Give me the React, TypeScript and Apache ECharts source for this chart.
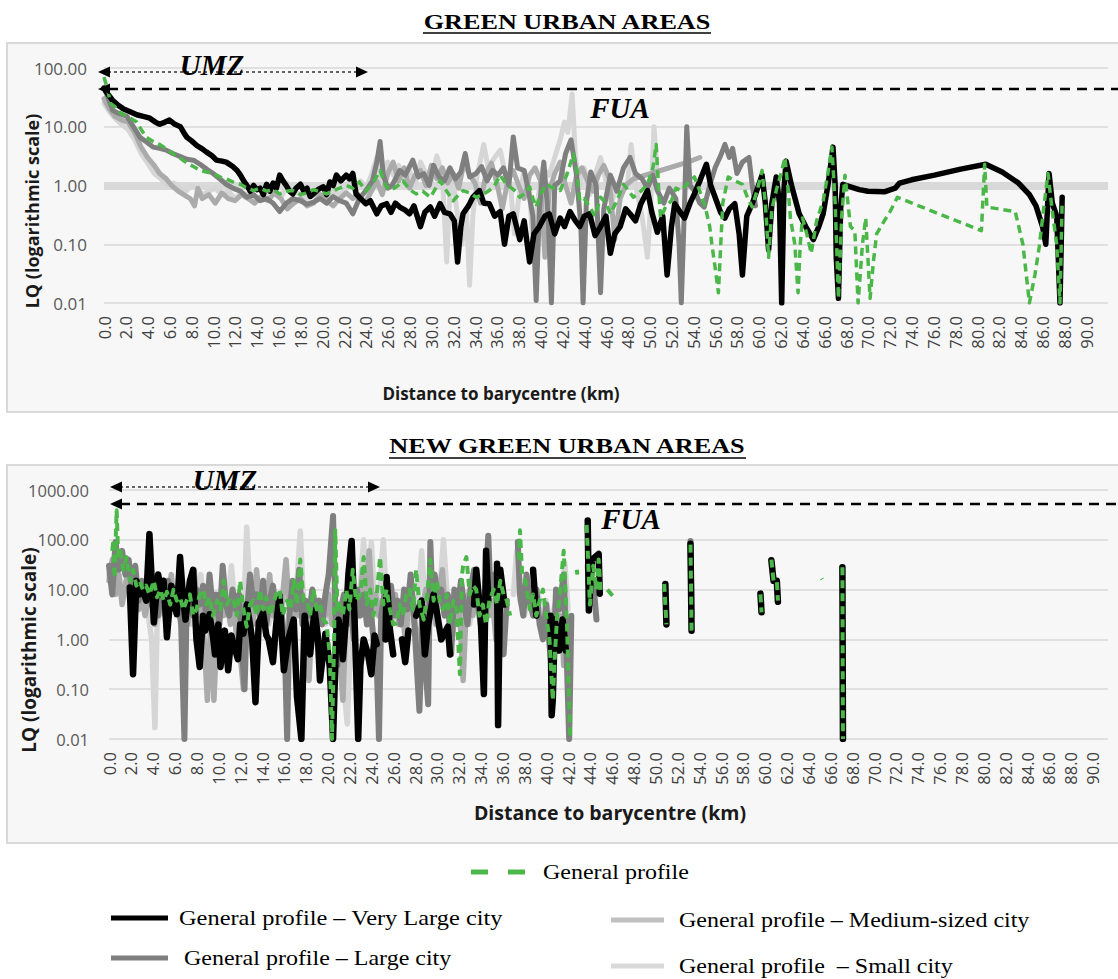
import React, { useEffect, useRef } from "react";
import * as echarts from "echarts";

type Pt = [number, number] | null;

// ---------- GREEN URBAN AREAS (top) : [distance km, LQ] ----------
const GUA_SMALL: Pt[] = [
  [0, 25], [0.5, 18], [1, 14], [1.6, 11], [2.2, 9], [2.8, 6], [3.4, 3.5], [4, 2.4], [4.6, 1.6], [5.2, 1.3], [5.8, 1.0], [6.4, 1.1], [7, 0.9], [7.5, 0.8], [8, 1.0], [8.5, 0.9], [9, 0.7], [9.6, 0.8], [10.2, 0.9], [10.8, 0.7], [11.4, 0.8], [12, 0.6], [12.6, 0.75], [13.2, 0.7], [13.8, 0.55], [14.4, 0.65], [15, 0.7], [15.6, 0.9], [16.2, 0.6], [16.8, 1.1], [17.4, 0.8], [18, 0.7], [18.6, 0.6], [19.2, 0.8], [19.8, 0.7], [20.4, 0.6], [21, 0.8], [21.6, 0.7], [22.2, 0.9], [22.6, 1.4], [23, 0.8], [23.5, 1.2], [24, 0.9], [24.5, 1.5], [25, 3], [25.4, 1.2], [26, 2.5], [26.5, 1.5], [27, 2.2], [27.5, 1.2], [28, 1.8], [28.5, 1.0], [29, 2.5], [29.5, 1.6], [30, 1.2], [30.5, 3.2], [31, 1.5], [31.4, 0.05], [31.7, 0.8], [32, 1.2], [32.4, 0.3], [32.8, 0.1], [33.2, 0.4], [33.5, 0.02], [33.8, 0.3], [34.2, 1.5], [34.8, 5], [35.2, 2], [35.8, 3], [36.3, 4], [36.8, 1.5], [37.3, 0.8], [37.6, 0.15], [38, 0.6], [38.5, 1.8], [39, 0.8], [39.3, 0.1], [39.7, 0.5], [40.2, 2], [40.8, 1.5], [41.3, 3], [41.8, 6], [42.2, 12], [42.5, 8], [42.9, 36], [43.2, 3], [43.6, 1.0], [44, 2], [44.5, 0.7], [45, 1.5], [45.5, 3], [46, 1.2], [46.5, 0.5], [47, 1.0], [47.5, 0.8], [48, 1.2], [48.3, 5], [48.7, 1.0], [49.3, 0.3], [49.8, 0.06], [50.1, 0.5], [50.4, 10], [50.7, 1.5]
];
const GUA_MEDIUM: Pt[] = [
  [0, 30], [0.5, 20], [1, 15], [1.6, 13], [2.2, 12], [2.8, 8], [3.4, 4.5], [4, 3], [4.6, 2.2], [5.1, 1.6], [5.7, 1.3], [6.2, 1.0], [6.8, 0.8], [7.3, 0.7], [7.9, 0.6], [8.3, 0.45], [8.6, 0.9], [9, 0.6], [9.6, 0.7], [10.2, 0.5], [10.8, 0.75], [11.4, 0.6], [12, 0.55], [12.6, 0.7], [13.2, 0.6], [13.8, 0.5], [14.4, 0.65], [15, 0.55], [15.6, 0.75], [16.2, 0.6], [16.8, 0.4], [17.4, 0.5], [18, 0.6], [18.6, 0.45], [19.2, 0.5], [19.8, 0.7], [20.4, 0.55], [21, 0.45], [21.6, 0.6], [22.2, 0.75], [22.8, 0.6], [23.3, 0.7], [23.9, 0.5], [24.5, 0.8], [25, 1.2], [25.5, 0.7], [26, 1.6], [26.5, 2.5], [27, 1.2], [27.5, 2], [28, 0.9], [28.5, 1.5], [29, 1.8], [29.5, 1.0], [30, 2.2], [30.5, 1.3], [31, 2], [31.5, 1.1], [32, 1.6], [32.5, 0.9], [33, 2.5], [33.5, 1.5], [34, 1.1], [34.5, 0.5], [35, 1.6], [35.5, 2.4], [36, 1.1], [36.5, 0.4], [37, 1.2], [37.5, 1.8], [38, 1.0], [38.5, 0.6], [39, 1.5], [39.5, 2], [40, 1.2], [40.4, 0.06], [40.8, 0.8], [41.3, 1.6], [41.8, 2.5], [42.3, 1.0], [42.8, 0.5], [43.3, 1.5], [43.8, 2.0], [44.3, 1.2], [44.8, 0.8], [45.3, 1.5], [45.8, 2.2], [46.3, 1.3], [46.8, 0.12], [47.3, 0.6], [47.8, 1.0], [48.5, 1.3], [51, 1.8], [53.5, 2.5], [54.6, 3]
];
const GUA_LARGE: Pt[] = [
  [0, 47], [0.4, 30], [0.8, 19], [1.3, 17], [2.1, 15], [2.7, 10], [3.3, 6.6], [3.9, 5.5], [4.5, 4.5], [5.1, 4.3], [5.7, 4], [6.3, 3.5], [7.0, 3.1], [7.6, 2.8], [8.2, 2.7], [8.8, 2.3], [9.4, 1.9], [10, 1.6], [10.6, 1.3], [11.2, 1.05], [11.8, 0.9], [12.5, 0.8], [13.1, 0.63], [13.7, 0.7], [14.3, 0.55], [14.9, 0.6], [15.5, 0.5], [16.1, 0.36], [16.7, 0.5], [17.3, 0.6], [18.0, 0.55], [18.6, 0.48], [19.2, 0.52], [19.8, 0.6], [20.4, 0.5], [21.0, 0.65], [21.6, 0.55], [22.2, 0.5], [22.8, 0.33], [23.4, 0.6], [24.0, 0.82], [24.6, 1.2], [25.0, 2.5], [25.3, 5.6], [25.6, 1.5], [26.0, 0.9], [26.4, 1.0], [27.1, 1.8], [27.6, 1.5], [28.3, 2.7], [28.8, 1.4], [29.3, 1.6], [29.8, 1.0], [30.2, 2.2], [30.7, 1.4], [31.2, 1.2], [31.7, 2.0], [32.2, 1.3], [32.7, 1.7], [33.1, 3.5], [33.5, 1.4], [34.1, 1.6], [34.6, 2.1], [35.1, 1.2], [35.6, 1.8], [36.1, 1.5], [36.6, 2.0], [37.1, 1.0], [37.5, 6.7], [37.9, 2.0], [38.5, 1.8], [38.9, 0.8], [39.3, 0.3], [39.6, 0.011], [39.9, 0.4], [40.3, 2.5], [40.7, 0.3], [41.0, 0.01], [41.3, 1.0], [41.8, 1.2], [42.3, 3.5], [42.8, 6], [43.3, 1.5], [43.7, 0.2], [43.9, 0.01], [44.2, 0.5], [44.6, 1.7], [45.1, 1.0], [45.5, 0.015], [45.8, 0.4], [46.4, 1.5], [47.0, 0.8], [47.6, 2.0], [48.2, 3], [48.7, 1.6], [49.3, 1.3], [49.8, 0.9], [50.3, 1.5], [50.7, 0.82], [51.3, 0.5], [51.8, 0.9], [52.4, 0.6], [52.7, 0.1], [52.9, 0.01], [53.2, 0.5], [53.4, 10], [53.7, 1.0], [54.1, 0.82], [54.6, 0.5], [55.0, 0.43], [55.5, 1.0], [56.0, 2.0], [56.5, 3.2], [56.9, 5], [57.3, 3.0], [57.6, 4.3], [58.0, 1.6], [58.5, 2.5], [59.1, 3], [59.4, 1.0], [59.7, 0.45]
];
const GUA_VERY_LARGE: Pt[] = [
  [0, 45], [0.4, 35], [0.8, 28], [1.2, 24], [1.8, 20], [2.4, 18], [3, 16], [3.6, 15], [4.2, 14], [4.7, 12], [5.1, 11], [5.6, 12], [6, 13], [6.5, 11], [7, 10], [7.3, 8], [7.6, 6.6], [8, 5.8], [8.5, 4.8], [9, 4.2], [9.4, 3.7], [9.9, 3.2], [10.3, 2.7], [10.8, 2.6], [11.2, 2.5], [11.8, 2.1], [12.2, 1.8], [12.5, 1.5], [12.8, 1.2], [13.1, 1.0], [13.4, 0.8], [13.7, 1.0], [14.0, 0.85], [14.3, 0.9], [14.6, 0.7], [14.9, 1.05], [15.2, 0.8], [15.5, 1.1], [15.8, 0.9], [16.1, 1.5], [16.4, 1.2], [16.7, 1.0], [17.0, 0.8], [17.3, 0.72], [17.6, 0.9], [18.0, 1.05], [18.3, 0.8], [18.6, 0.9], [18.9, 0.65], [19.2, 0.72], [19.6, 0.85], [20.1, 0.95], [20.4, 0.7], [20.7, 1.15], [21.0, 1.0], [21.3, 1.5], [21.7, 1.2], [22.2, 1.5], [22.5, 1.3], [22.8, 1.6], [23.1, 0.72], [23.5, 0.6], [24.0, 0.49], [24.4, 0.55], [25.0, 0.33], [25.4, 0.45], [25.9, 0.49], [26.3, 0.35], [26.7, 0.5], [27.1, 0.43], [27.6, 0.38], [28.0, 0.33], [28.4, 0.45], [29.0, 0.2], [29.4, 0.35], [29.9, 0.43], [30.3, 0.3], [30.8, 0.49], [31.2, 0.35], [31.7, 0.33], [32.1, 0.25], [32.4, 0.05], [32.7, 0.2], [32.9, 0.33], [33.4, 0.45], [33.8, 0.63], [34.4, 0.82], [34.8, 0.5], [35.3, 0.49], [35.8, 0.3], [36.3, 0.36], [36.7, 0.1], [37.1, 0.3], [37.5, 0.33], [37.8, 0.2], [38.1, 0.12], [38.5, 0.25], [39.0, 0.05], [39.4, 0.15], [39.9, 0.2], [40.4, 0.3], [40.8, 0.33], [41.3, 0.15], [41.8, 0.28], [42.2, 0.2], [42.7, 0.36], [43.2, 0.25], [43.6, 0.2], [44.0, 0.3], [44.5, 0.33], [45.0, 0.14], [45.5, 0.2], [46.0, 0.3], [46.4, 0.07], [46.8, 0.15], [47.3, 0.2], [47.8, 0.4], [48.2, 0.33], [48.7, 0.25], [49.2, 0.49], [49.8, 0.82], [50.2, 0.35], [50.7, 0.16], [51.2, 0.3], [51.6, 0.03], [52.0, 0.2], [52.3, 0.49], [52.8, 0.35], [53.2, 0.28], [53.7, 0.5], [54.1, 0.72], [54.6, 1.2], [55.2, 2.3], [55.6, 1.0], [56.0, 0.63], [56.5, 0.35], [56.9, 0.28], [57.3, 0.4], [57.8, 0.49], [58.2, 0.15], [58.5, 0.03], [58.9, 0.3], [59.4, 0.49], [59.8, 0.8], [60.3, 1.5], [60.6, 0.5], [60.9, 0.08], [61.2, 0.5], [61.6, 1.4], [61.9, 0.5], [62.1, 0.01], [62.3, 0.8], [62.5, 2.6], [63.0, 1.0], [63.7, 0.33], [64.3, 0.2], [65.0, 0.12], [65.5, 0.2], [65.9, 0.33], [66.4, 1.2], [66.8, 4.5], [67.0, 1.0], [67.1, 0.06], [67.3, 0.012], [67.5, 0.4], [67.7, 1.05], [68.4, 0.95], [69.2, 0.85], [70.0, 0.8], [71.5, 0.78], [72.5, 0.9], [72.9, 1.1], [74, 1.25], [76.1, 1.5], [78.5, 1.9], [80.8, 2.3], [82.3, 1.7], [83.8, 1.1], [84.8, 0.7], [85.4, 0.45], [86.0, 0.2], [86.3, 0.1], [86.6, 1.6], [86.9, 0.5], [87.3, 0.3], [87.6, 0.01], [87.8, 0.63]
];
const GUA_GENERAL: Pt[] = [
  [0, 70], [0.3, 45], [0.6, 25], [1.0, 22], [1.4, 18], [1.8, 16], [2.4, 14], [3, 12], [3.4, 9], [3.9, 6.6], [4.5, 5.6], [5.1, 5], [5.7, 4.2], [6.3, 3.5], [7.0, 2.9], [7.6, 2.4], [8.2, 2.1], [8.8, 1.8], [9.4, 1.7], [10, 1.6], [10.6, 1.4], [11.2, 1.3], [11.8, 1.15], [12.5, 1.05], [13.1, 0.9], [13.7, 0.82], [14.3, 0.9], [14.9, 0.8], [15.5, 0.85], [16.1, 0.72], [16.7, 0.8], [17.3, 0.82], [18.0, 0.7], [18.6, 0.75], [19.2, 0.85], [19.8, 0.78], [20.4, 0.72], [21, 0.82], [21.6, 0.9], [22.2, 1.0], [22.8, 0.9], [23.4, 1.15], [24.0, 0.8], [24.7, 1.15], [25.3, 1.8], [25.8, 1.0], [26.2, 0.82], [26.8, 0.95], [27.4, 1.2], [28.0, 0.85], [28.6, 0.72], [29.2, 0.8], [29.9, 0.63], [30.4, 0.9], [30.8, 1.2], [31.4, 0.8], [32.0, 0.55], [32.5, 0.7], [32.9, 0.82], [33.5, 0.75], [34.1, 0.63], [34.7, 0.7], [35.3, 0.82], [35.8, 1.0], [36.3, 1.5], [36.8, 1.1], [37.2, 0.95], [37.7, 0.8], [38.1, 0.63], [38.6, 0.75], [39.0, 0.95], [39.3, 0.6], [39.6, 0.43], [40.0, 0.7], [40.5, 1.05], [41.2, 0.9], [41.8, 0.82], [42.4, 1.5], [43.0, 3.4], [43.3, 2.0], [43.6, 0.55], [44.0, 0.6], [44.5, 0.43], [45.0, 0.3], [45.5, 0.63], [46.0, 0.5], [46.4, 0.33], [47.0, 0.55], [47.6, 1.05], [48.1, 0.8], [48.5, 0.63], [49.2, 0.8], [49.8, 1.05], [50.3, 2.0], [50.6, 5], [50.8, 1.0], [51.0, 0.28], [51.5, 0.45], [52.0, 0.55], [52.4, 0.9], [52.9, 0.82], [53.5, 1.1], [54.1, 1.4], [54.6, 0.8], [55.1, 0.43], [55.5, 0.2], [55.7, 0.1], [56.0, 0.04], [56.3, 0.015], [56.7, 0.5], [57.2, 1.4], [57.8, 1.2], [58.5, 1.05], [59.0, 0.6], [59.4, 0.43], [59.9, 0.9], [60.3, 1.8], [60.6, 0.5], [60.9, 0.06], [61.2, 0.4], [61.6, 0.82], [62.0, 1.5], [62.4, 3], [62.7, 0.8], [62.9, 0.28], [63.3, 0.1], [63.6, 0.015], [63.8, 0.1], [64.0, 0.28], [64.4, 0.15], [64.8, 0.07], [65.3, 0.25], [65.9, 0.55], [66.3, 1.5], [66.7, 4.5], [67.0, 0.5], [67.3, 0.012], [67.6, 0.3], [67.9, 1.5], [68.4, 0.2], [68.8, 0.17], [69.1, 0.01], [69.5, 0.1], [69.8, 0.28], [70.2, 0.012], [70.5, 0.05], [70.8, 0.15], [71.5, 0.25], [72.0, 0.35], [72.7, 0.63], [80.4, 0.17], [80.7, 2.3], [80.9, 0.43], [83.5, 0.36], [84.2, 0.1], [84.8, 0.01], [85.3, 0.03], [85.7, 0.09], [86.1, 0.4], [86.5, 1.6], [86.9, 0.36], [87.3, 0.1], [87.6, 0.01], [87.8, 0.55]
];

// ---------- NEW GREEN URBAN AREAS (bottom) : [distance km, LQ], null = gap ----------
const NGUA_SMALL: Pt[] = [
  [0, 20], [0.4, 10], [0.8, 30], [1.2, 8], [1.6, 15], [2.0, 5], [2.4, 12], [2.8, 4], [3.2, 8], [3.6, 3], [3.9, 1], [4.2, 0.017], [4.4, 2], [4.8, 6], [5.2, 3], [5.6, 10], [6.0, 4], [6.4, 8], [6.8, 3], [7.2, 6], [7.6, 2], [8.0, 5], [8.4, 20], [8.8, 3], [9.2, 6], [9.6, 0.07], [10.0, 3], [10.4, 8], [10.8, 4], [11.2, 30], [11.6, 3], [12.0, 6], [12.3, 2], [12.6, 180], [12.9, 8], [13.2, 5], [13.5, 8], [13.8, 3], [14.2, 6], [14.6, 2], [15.0, 4], [15.4, 8], [15.8, 3], [16.2, 20], [16.6, 6], [17.0, 3], [17.5, 150], [17.8, 5], [18.2, 2], [18.6, 8], [19.0, 3], [19.4, 6], [19.8, 2], [20.2, 10], [20.6, 4], [21.0, 3], [21.4, 0.2], [21.8, 0.02], [22.1, 1], [22.4, 6], [22.8, 3], [23.3, 100], [23.6, 4], [24.0, 90], [24.3, 6], [24.6, 3], [25.1, 100], [25.4, 5], [25.8, 2], [26.2, 6], [26.6, 3], [27.0, 8], [27.4, 2], [27.8, 5], [28.2, 3], [28.6, 60], [29.0, 4], [29.4, 10], [29.8, 3], [30.2, 6], [30.6, 100], [31.0, 5], [31.4, 2], [31.8, 8], [32.2, 3], [32.6, 6], [33.0, 2], [33.4, 10], [33.8, 4], [34.2, 8], [34.6, 3], [35.0, 6], [35.4, 2], [35.8, 5], null, [37.0, 8], [37.3, 60], [37.6, 6], [38.0, 3], [38.4, 8], [38.8, 4], [39.2, 10], [39.6, 3], [40.0, 6], [40.4, 2], [40.8, 5], [41.2, 3], [41.7, 35], [42.0, 4]
];
const NGUA_MEDIUM: Pt[] = [
  [0, 15], [0.3, 40], [0.6, 8], [0.9, 20], [1.2, 5], [1.5, 12], [1.8, 30], [2.1, 6], [2.4, 10], [2.7, 4], [3.0, 8], [3.3, 3], [3.6, 6], [3.9, 12], [4.2, 2], [4.5, 5], [4.8, 8], [5.1, 3], [5.4, 6], [5.7, 20], [6.0, 4], [6.3, 8], [6.6, 3], [6.9, 5], [7.2, 2], [7.5, 8], [7.8, 25], [8.1, 3], [8.4, 5], [8.7, 1], [9.0, 0.06], [9.3, 2], [9.6, 0.06], [9.9, 4], [10.2, 8], [10.5, 3], [10.8, 6], [11.1, 2], [11.4, 5], [11.7, 1], [12.0, 0.5], [12.3, 0.1], [12.6, 3], [12.9, 6], [13.2, 2], [13.5, 25], [13.8, 4], [14.1, 2], [14.4, 6], [14.7, 20], [15.0, 3], [15.3, 5], [15.6, 2], [15.9, 8], [16.2, 40], [16.5, 4], [16.8, 2], [17.1, 6], [17.4, 3], [17.7, 8], [18.0, 1], [18.3, 0.15], [18.6, 3], [18.9, 5], [19.2, 2], [19.5, 6], [19.8, 3], [20.1, 8], [20.4, 2], [20.7, 5], [21.0, 1], [21.4, 0.06], [21.7, 3], [22.0, 6], [22.3, 2], [22.6, 8], [22.9, 3], [23.2, 25], [23.5, 5], [23.8, 60], [24.1, 4], [24.4, 8], [24.7, 3], [25.0, 6], [25.3, 2], [25.6, 10], [25.9, 4], [26.2, 8], [26.5, 2], [26.8, 5], [27.1, 1], [27.4, 4], [27.7, 8], [28.0, 2], [28.4, 0.5], [28.7, 5], [29.0, 10], [29.3, 3], [29.6, 6], [29.9, 2], [30.2, 8], [30.5, 25], [30.8, 3], [31.1, 6], [31.4, 1], [31.7, 4], [32.0, 8], [32.4, 0.15], [32.7, 5], [33.0, 10], [33.3, 3], [33.6, 20], [33.9, 5], [34.2, 2], [34.5, 8], [34.8, 3], [35.1, 6], [35.4, 1], [35.7, 4], [36.0, 10], null, [41.4, 3], [41.6, 0.3], [41.9, 2]
];
const NGUA_LARGE: Pt[] = [
  [0, 30], [0.3, 8], [0.6, 90], [0.9, 25], [1.2, 60], [1.5, 20], [1.8, 40], [2.1, 10], [2.4, 30], [2.7, 6], [3.0, 15], [3.3, 8], [3.6, 20], [3.9, 5], [4.2, 10], [4.5, 3], [4.8, 12], [5.1, 6], [5.4, 15], [5.7, 4], [6.0, 10], [6.3, 6], [6.6, 2], [6.9, 0.01], [7.1, 5], [7.4, 8], [7.7, 3], [8.0, 10], [8.3, 5], [8.6, 12], [8.9, 3], [9.2, 20], [9.5, 4], [9.8, 8], [10.1, 2], [10.4, 30], [10.7, 5], [11.0, 3], [11.3, 10], [11.6, 4], [11.9, 8], [12.2, 0.5], [12.4, 0.1], [12.6, 3], [12.9, 20], [13.2, 5], [13.5, 8], [13.8, 3], [14.1, 15], [14.4, 2], [14.7, 6], [15.0, 12], [15.3, 3], [15.6, 8], [15.9, 2], [16.1, 0.5], [16.3, 0.01], [16.5, 3], [16.8, 15], [17.1, 4], [17.4, 25], [17.7, 2], [18.0, 6], [18.3, 3], [18.6, 10], [18.9, 4], [19.2, 6], [19.5, 2], [19.8, 8], [20.1, 20], [20.5, 300], [20.7, 5], [20.9, 0.3], [21.2, 4], [21.5, 8], [21.8, 2], [22.1, 6], [22.4, 1], [22.7, 10], [23.0, 3], [23.3, 8], [23.6, 2], [23.9, 5], [24.2, 1], [24.5, 0.3], [24.7, 0.01], [24.9, 3], [25.2, 8], [25.5, 4], [25.8, 12], [26.1, 3], [26.4, 6], [26.7, 2], [27.0, 10], [27.3, 4], [27.6, 20], [27.9, 3], [28.1, 0.5], [28.4, 0.037], [28.7, 3], [29.0, 0.2], [29.2, 0.05], [29.4, 90], [29.6, 5], [29.8, 20], [30.1, 6], [30.4, 10], [30.7, 3], [31.0, 8], [31.3, 0.5], [31.6, 10], [31.9, 4], [32.2, 15], [32.5, 5], [32.8, 2], [33.1, 10], [33.4, 25], [33.7, 6], [34.0, 2], [34.3, 3], [34.7, 120], [34.9, 8], [35.2, 20], [35.5, 5], [35.8, 1], [36.1, 0.5], [36.4, 6], null, [37.4, 90], [37.6, 8], [37.9, 3], [38.2, 20], [38.5, 6], [38.8, 3], [39.1, 10], [39.4, 2], [39.7, 1], [40.0, 5], [40.3, 0.8], [40.6, 0.15], [40.9, 10], [41.2, 4], [41.6, 20], [41.9, 0.3], [42.1, 0.01], [42.3, 3], null, [43.8, 30], [44.0, 5], [44.3, 15], [44.6, 2.5], null, [53.2, 95], [53.3, 3]
];
const NGUA_VERY_LARGE: Pt[] = [
  [1.9, 11], [2.2, 0.2], [2.5, 15], [2.8, 8], [3.1, 10], [3.4, 6], [3.7, 130], [4.1, 2.2], [4.5, 20], [4.8, 8], [5.0, 15], [5.3, 1.1], [5.7, 12], [6.0, 5], [6.2, 3.2], [6.5, 45], [6.8, 6], [7.0, 2.5], [7.4, 15], [7.7, 25], [8.0, 1.0], [8.3, 0.28], [8.6, 3], [8.8, 1.5], [9.2, 3.2], [9.5, 1.2], [9.7, 0.5], [10.0, 2], [10.2, 0.28], [10.6, 1.5], [10.9, 0.24], [11.2, 1.2], [11.4, 0.8], [11.8, 0.4], [12.0, 2], [12.3, 1.3], [12.6, 5], [12.9, 2], [13.1, 1.0], [13.4, 0.055], [13.7, 2.2], [14.1, 3.4], [14.4, 1.2], [14.6, 1.0], [15.0, 0.35], [15.3, 2], [15.6, 7.5], [16.0, 0.24], [16.4, 1.0], [16.9, 2.5], [17.2, 0.07], [17.6, 0.01], [17.9, 3], [18.2, 1], [18.4, 0.5], [18.8, 3.8], [19.1, 1.2], [19.3, 0.15], [19.8, 1.3], [20.2, 0.28], [20.5, 0.01], [20.8, 1.5], [21.0, 2.5], [21.4, 0.4], [21.7, 3], [21.9, 20], [22.2, 95], [22.5, 1.5], [22.8, 0.01], [23.0, 0.3], [23.3, 1.0], [23.7, 0.5], [24.0, 0.2], [24.3, 1.2], [24.5, 0.8], null, [25.3, 1.0], [25.4, 18], [25.7, 1.6], [26.0, 0.5], null, [26.8, 1.0], [27.1, 0.35], [27.4, 1.5], null, [28.1, 3], [28.6, 6], [28.9, 0.5], [29.2, 2], [29.7, 8], [30.0, 3.5], [30.4, 1], [31.0, 1.8], [31.2, 0.5], null, [33.4, 5], [33.6, 25], [34.0, 3], [34.3, 0.08], [34.5, 60], [34.7, 6], null, [35.5, 33], [35.6, 0.019], [35.8, 25], [36.2, 5], null, [38.8, 25], [39.1, 3], null, [40.4, 3], [40.5, 0.03], [40.6, 0.06], [40.8, 2.5], [41.2, 0.6], [41.5, 2.5], [41.8, 0.6], null, [43.8, 245], [43.9, 3.8], [44.2, 40], [44.8, 52], [44.9, 8.3], null, [50.9, 13], [51.0, 2], null, [53.2, 83], [53.3, 1.5], null, [59.6, 8.3], [59.7, 3.5], null, [60.6, 39], [60.8, 15], [61.1, 15], [61.2, 5.7], null, [67.1, 28], [67.15, 0.01]
];
const NGUA_GENERAL: Pt[] = [
  [0.3, 60], [0.4, 100], [0.5, 17], [0.7, 390], [0.85, 40], [1.0, 70], [1.3, 25], [1.6, 45], [1.9, 15], [2.2, 25], [2.5, 12], [2.8, 15], [3.1, 10], [3.4, 12], [3.7, 8], [4.1, 15], [4.4, 7], [4.7, 10], [5.0, 6], [5.3, 9], [5.6, 5], [5.9, 10], [6.2, 6], [6.5, 7], [6.8, 4], [7.1, 6], [7.4, 8], [7.7, 3], [8.0, 4], [8.3, 8], [8.6, 10], [8.9, 5], [9.2, 7], [9.5, 3], [9.9, 6], [10.2, 4], [10.5, 15], [10.8, 5], [11.1, 7], [11.4, 6], [11.7, 3], [12.0, 15], [12.3, 4], [12.6, 1.8], [12.9, 5], [13.2, 6], [13.5, 3], [13.8, 10], [14.1, 4], [14.4, 7], [14.7, 3], [15.0, 5], [15.3, 8], [15.6, 10], [15.9, 3], [16.3, 6], [16.6, 4], [16.9, 15], [17.2, 5], [17.5, 40], [17.8, 6], [18.1, 6], [18.4, 3], [18.7, 10], [19.0, 4], [19.3, 5], [19.6, 2.5], [19.9, 2.1], [20.2, 0.5], [20.4, 0.01], [20.6, 1], [20.7, 155], [20.9, 4], [21.1, 5], [21.4, 3], [21.7, 10], [22.0, 4], [22.3, 25], [22.6, 6], [23.0, 8], [23.3, 45], [23.6, 5], [23.9, 10], [24.2, 3], [24.5, 8], [24.8, 45], [25.1, 5], [25.4, 10], [25.7, 4], [26.0, 2], [26.3, 2.1], [26.6, 5], [26.9, 3], [27.2, 8], [27.5, 10], [27.8, 4], [28.1, 25], [28.4, 5], [28.8, 2.5], [29.1, 8], [29.4, 40], [29.7, 6], [30.0, 15], [30.3, 5], [30.6, 4], [30.9, 8], [31.2, 2], [31.5, 6], [31.8, 4], [32.1, 0.2], [32.3, 20], [32.4, 30], [32.7, 45], [33.0, 8], [33.3, 12], [33.6, 10], [33.9, 3], [34.2, 5], [34.5, 2], [34.8, 6], [35.2, 10], [35.5, 5], [35.8, 15], [36.1, 8], [36.4, 6], [36.7, 3], null, [37.5, 40], [37.6, 155], [37.8, 20], [38.1, 15], [38.5, 4], [38.8, 8], [39.1, 3], [39.4, 6], [39.7, 10], [40.0, 3], [40.3, 1], [40.6, 0.06], [40.8, 0.5], [41.0, 3], [41.2, 6], [41.6, 60], [41.9, 2], [42.2, 0.01], null, [42.8, 25], [42.85, 20], null, [43.7, 200], [44.0, 5], [44.3, 30], [44.6, 10], [44.8, 40], [45.0, 8], null, [45.6, 10], [46.2, 7], null, [50.8, 13], [51.0, 2], null, [53.2, 80], [53.3, 1.5], null, [59.6, 8], [59.7, 3.5], null, [60.6, 40], [60.8, 15], [61.1, 15], [61.2, 6], null, [65.2, 16.6], [65.25, 16], null, [67.1, 28], [67.15, 0.01]
];

const SERIES_NAMES = [
  "General profile – Small city",
  "General profile – Medium-sized city",
  "General profile – Large city",
  "General profile – Very Large city",
  "General profile",
];
const COLORS = ["#d6d6d6", "#ababab", "#7f7f7f", "#000000", "#4bb749"];
// line widths per series: [top chart, bottom chart]
const WIDTHS = [[5, 5.5], [5, 5.5], [5, 6], [5.5, 6.5], [3.5, 4]];

const TITLE_TOP = "GREEN URBAN AREAS";
const TITLE_BOTTOM = "NEW GREEN URBAN AREAS";
const X_NAME = "Distance to barycentre (km)";
const Y_NAME = "LQ (logarithmic scale)";

function toData(pts: Pt[]) {
  return pts.map((p) => (p ? p : ["-", "-"]));
}

function makeSeries(idx: number, pts: Pt[], grid: number, extra: any = {}) {
  const green = idx === 4;
  return {
    type: "line",
    name: SERIES_NAMES[idx],
    xAxisIndex: grid,
    yAxisIndex: grid,
    data: toData(pts),
    showSymbol: false,
    symbol: "none",
    connectNulls: false,
    silent: true,
    z: 2 + idx,
    lineStyle: {
      color: COLORS[idx],
      width: WIDTHS[idx][grid],
      type: green ? [8, 5] : "solid",
      cap: green ? "butt" : "round",
      join: "round",
    },
    itemStyle: { color: COLORS[idx] },
    ...extra,
  };
}

const SERIF = "'Liberation Serif', 'Times New Roman', serif";
const SANS = "'Open Sans', 'Noto Sans', sans-serif";

function txt(x: number, y: number, text: string, opts: any = {}) {
  const { scaleX = 1, rotation = 0, align = "left", ...style } = opts;
  return {
    type: "text",
    x,
    y,
    scaleX,
    rotation,
    z: 50,
    silent: true,
    style: {
      text,
      fill: "#000",
      align,
      textAlign: align,
      verticalAlign: "middle",
      textVerticalAlign: "middle",
      ...style,
    },
  };
}
function hline(x1: number, x2: number, y: number, stroke: string, lineWidth: number, dash?: number[]) {
  return {
    type: "line",
    z: 50,
    silent: true,
    shape: { x1, y1: y, x2, y2: y },
    style: { stroke, lineWidth, lineDash: dash },
  };
}
function arrowHead(tx: number, y: number, dir: number) {
  return {
    type: "polygon",
    z: 51,
    silent: true,
    shape: { points: [[tx, y], [tx - dir * 12, y - 5.5], [tx - dir * 12, y + 5.5]] },
    style: { fill: "#000" },
  };
}

function xAxisCfg(grid: number, max: number) {
  return {
    type: "value",
    gridIndex: grid,
    min: 0,
    max,
    interval: 2,
    axisLine: { show: false },
    axisTick: { show: false },
    splitLine: { show: false },
    axisLabel: {
      rotate: 90,
      margin: 13,
      fontSize: 16.5,
      fontFamily: SANS,
      color: "#404040",
      showMaxLabel: false,
      formatter: (v: number) => (v > 90.01 ? "" : v.toFixed(1)),
    },
  };
}
function yAxisCfg(grid: number, max: number, fontSize: number, margin: number) {
  return {
    type: "log",
    logBase: 10,
    gridIndex: grid,
    min: 0.01,
    max,
    splitNumber: 5,
    axisLine: { show: false },
    axisTick: { show: false },
    splitLine: { show: true, lineStyle: { color: "#d9d9d9", width: 1.5 } },
    axisLabel: {
      fontSize,
      fontFamily: SANS,
      color: "#595959",
      margin,
      formatter: (v: number) => v.toFixed(2),
    },
  };
}

export default function App() {
  const ref = useRef<HTMLDivElement>(null);
  useEffect(() => {
    if (!ref.current) return;
    const chart = echarts.init(ref.current, undefined, { renderer: "svg" });
    const topSeries = [GUA_SMALL, GUA_MEDIUM, GUA_LARGE, GUA_VERY_LARGE, GUA_GENERAL].map((d, i) =>
      makeSeries(
        i,
        d,
        0,
        i === 0
          ? {
              markLine: {
                silent: true,
                symbol: "none",
                label: { show: false },
                lineStyle: { color: "#d9d9d9", width: 8, type: "solid" },
                data: [{ yAxis: 1 }],
                z: 1,
              },
            }
          : {}
      )
    );
    const bottomSeries = [NGUA_SMALL, NGUA_MEDIUM, NGUA_LARGE, NGUA_VERY_LARGE, NGUA_GENERAL].map((d, i) =>
      makeSeries(i, d, 1)
    );

    const graphic: any[] = [
      // panels
      { type: "rect", z: -10, silent: true, shape: { x: 7, y: 43, width: 1120, height: 369 }, style: { fill: "#f7f7f7", stroke: "#d9d9d9", lineWidth: 2 } },
      { type: "rect", z: -10, silent: true, shape: { x: 7, y: 465, width: 1120, height: 378 }, style: { fill: "#f7f7f7", stroke: "#d9d9d9", lineWidth: 2 } },
      // titles
      txt(567, 22, TITLE_TOP, { align: "center", scaleX: 1.31, fontSize: 20, fontWeight: "bold", fontFamily: SERIF }),
      hline(423, 711, 33, "#000", 1.5),
      txt(567, 446, TITLE_BOTTOM, { align: "center", scaleX: 1.31, fontSize: 20, fontWeight: "bold", fontFamily: SERIF }),
      hline(389, 746, 458, "#000", 1.5),
      // top annotations
      hline(108, 358, 72, "#333", 1.5, [3, 3]),
      arrowHead(98, 72, -1),
      arrowHead(368, 72, 1),
      hline(108, 1118, 89, "#000", 2.5, [10, 7]),
      arrowHead(98, 89, -1),
      txt(212, 65, "UMZ", { align: "center", fontSize: 29, fontWeight: "bold", fontStyle: "italic", fontFamily: SERIF }),
      txt(620, 108, "FUA", { align: "center", fontSize: 29, fontWeight: "bold", fontStyle: "italic", fontFamily: SERIF }),
      // bottom annotations
      hline(120, 370, 487, "#333", 1.5, [3, 3]),
      arrowHead(110, 487, -1),
      arrowHead(380, 487, 1),
      hline(120, 1118, 504, "#000", 2.5, [10, 7]),
      arrowHead(110, 504, -1),
      txt(225, 480, "UMZ", { align: "center", fontSize: 29, fontWeight: "bold", fontStyle: "italic", fontFamily: SERIF }),
      txt(631, 519, "FUA", { align: "center", fontSize: 29, fontWeight: "bold", fontStyle: "italic", fontFamily: SERIF }),
      // axis names
      txt(501, 393, X_NAME, { align: "center", fontSize: 17, fontWeight: "bold", fontFamily: SANS, fill: "#1a1a1a" }),
      txt(32, 211, Y_NAME, { align: "center", rotation: Math.PI / 2, fontSize: 18, fontWeight: "bold", fontFamily: SANS, fill: "#1a1a1a" }),
      txt(610, 812, X_NAME, { align: "center", fontSize: 19.5, fontWeight: "bold", fontFamily: SANS, fill: "#1a1a1a" }),
      txt(29, 650, Y_NAME, { align: "center", rotation: Math.PI / 2, fontSize: 19, fontWeight: "bold", fontFamily: SANS, fill: "#1a1a1a" }),
      // legend
      hline(471, 488, 872, COLORS[4], 5),
      hline(508, 525, 872, COLORS[4], 5),
      txt(543, 872, SERIES_NAMES[4], { fontSize: 20, scaleX: 1.2, fontFamily: SERIF }),
      hline(111, 168, 918, COLORS[3], 5),
      txt(179, 918, SERIES_NAMES[3], { fontSize: 20, scaleX: 1.22, fontFamily: SERIF }),
      hline(111, 168, 958, COLORS[2], 5),
      txt(184, 958, SERIES_NAMES[2], { fontSize: 20, scaleX: 1.2, fontFamily: SERIF }),
      hline(611, 664, 920, "#c0c0c0", 5),
      txt(679, 920, SERIES_NAMES[1], { fontSize: 20, scaleX: 1.2, fontFamily: SERIF }),
      hline(611, 664, 966, "#d9d9d9", 5),
      txt(679, 966, "General profile  – Small city", { fontSize: 20, scaleX: 1.2, fontFamily: SERIF }),
    ];

    chart.setOption({
      animation: false,
      backgroundColor: "#ffffff",
      legend: { show: false },
      grid: [
        { left: 104, right: 10, top: 68, height: 235 },
        { left: 109, right: 10, top: 490, height: 249 },
      ],
      xAxis: [xAxisCfg(0, 92), xAxisCfg(1, 91.4)],
      yAxis: [yAxisCfg(0, 100, 17, 17), yAxisCfg(1, 1000, 16.5, 20)],
      series: [...topSeries, ...bottomSeries],
      graphic,
    });
    return () => chart.dispose();
  }, []);
  return <div ref={ref} style={{ position: "absolute", left: 0, top: 0, width: 1118, height: 979 }} />;
}
